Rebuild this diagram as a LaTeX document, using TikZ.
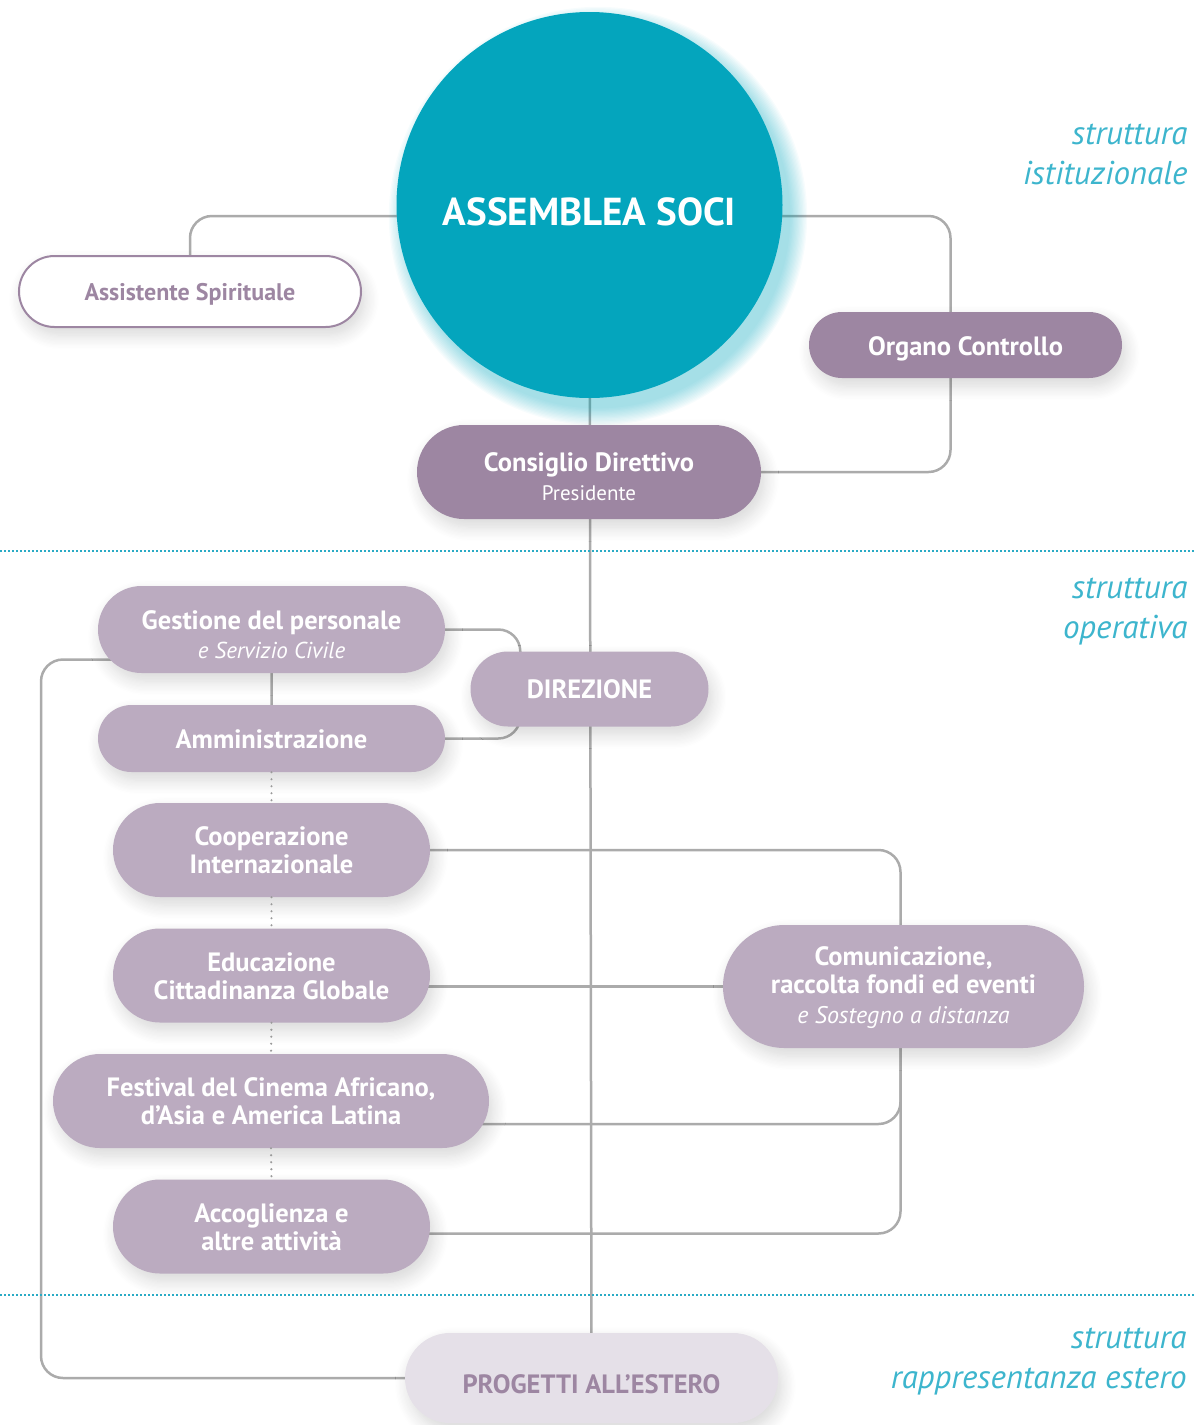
\documentclass[tikz,border=0pt]{standalone}
\usepackage{fontspec}
\setmainfont{PT Sans}
\usetikzlibrary{shapes.misc,shadows.blur,backgrounds,calc}
\definecolor{tealc}{HTML}{04A5BD}
\definecolor{pdark}{HTML}{9D86A2}
\definecolor{plight}{HTML}{BBABC0}
\definecolor{pvlight}{HTML}{E5E0E8}
\definecolor{lgray}{HTML}{ABABAB}
\definecolor{cyanlab}{HTML}{3DB5CD}
\definecolor{cyandot}{HTML}{2AABC5}
\newcommand{\lbl}[2][0pt]{\raisebox{-#1}[\height][\depth]{\begin{tabular}{@{}c@{}}#2\end{tabular}}}
\begin{document}
\begin{tikzpicture}[x=1pt,y=-1pt,
  pill/.style={rounded rectangle, inner sep=0pt, align=center, text=white,
    font=\bfseries\fontsize{26.5}{28}\selectfont,
    blur shadow={shadow xshift=4pt, shadow yshift=-8pt, shadow blur radius=14pt, shadow opacity=16, shadow blur steps=12}},
  darkpill/.style={pill, fill=pdark},
  lightpill/.style={pill, fill=plight},
  conn/.style={draw=lgray, line width=2.5pt, rounded corners=22pt},
  dotconn/.style={draw=lgray!90!black, line width=2.4pt, line cap=round, dash pattern=on 0pt off 7pt},
  sepline/.style={draw=cyandot, line width=2pt, dash pattern=on 2pt off 2pt},
  sectlabel/.style={anchor=east, align=right, text=cyanlab, font=\itshape\fontsize{33}{40}\selectfont}
]
\useasboundingbox (0,0) rectangle (1195,1425);

% glow of the circle (lower right)
\foreach \i in {1,...,14}{
  \fill[tealc, opacity=0.03] (598,216) circle ({191+1.3*\i});
}
% nodes
\node[circle, fill=tealc, minimum size=386pt, inner sep=0pt, text=white,
      font=\bfseries\fontsize{39}{40}\selectfont] (asm) at (589.5,205) {\lbl[12pt]{ASSEMBLEA SOCI}};

\node[pill, fill=white, draw=pdark, line width=2pt, text=pdark, font=\bfseries\fontsize{24}{26}\selectfont,
      minimum width=342pt, minimum height=71pt] (asst) at (190,291.5) {\lbl[4pt]{Assistente Spirituale}};

\node[darkpill, minimum width=313pt, minimum height=66pt] (org) at (965.5,345) {\lbl[5pt]{Organo Controllo}};

\node[darkpill, minimum width=344pt, minimum height=94pt] (cd) at (589,472)
  {\lbl[8pt]{Consiglio Direttivo\\[1pt]{\normalfont\fontsize{21}{22}\selectfont Presidente}}};

\node[lightpill, minimum width=347pt, minimum height=87pt] (gest) at (271.5,629.5)
  {\lbl[9pt]{Gestione del personale\\[1pt]{\itshape\mdseries\fontsize{23}{23}\selectfont e Servizio Civile}}};

\node[lightpill, minimum width=347pt, minimum height=67pt] (amm) at (271.5,738.5) {\lbl[4pt]{Amministrazione}};

\node[lightpill, minimum width=238pt, minimum height=75pt] (dir) at (589.5,689) {DIREZIONE};

\node[lightpill, minimum width=317pt, minimum height=94pt] (coop) at (271.5,850)
  {Cooperazione\\Internazionale};

\node[lightpill, minimum width=317pt, minimum height=94pt] (edu) at (271.5,975.5)
  {\lbl[4pt]{Educazione\\Cittadinanza Globale}};

\node[lightpill, minimum width=436pt, minimum height=94pt] (fest) at (271,1101)
  {Festival del Cinema Africano,\\d’Asia e America Latina};

\node[lightpill, minimum width=317pt, minimum height=94pt] (acc) at (271.5,1226.5)
  {\lbl[4pt]{Accoglienza e\\altre attività}};

\node[lightpill, minimum width=361pt, minimum height=123pt] (com) at (903.5,986.5)
  {\lbl[2pt]{Comunicazione,\\raccolta fondi ed eventi\\[2pt]{\itshape\mdseries\fontsize{24}{24}\selectfont e Sostegno a distanza}}};

\node[pill, fill=pvlight, text=pdark, minimum width=373pt, minimum height=90pt] (prog) at (591.5,1378)
  {\lbl[10pt]{PROGETTI ALL’ESTERO}};

% section labels
\node[sectlabel] (l1) at (1191,154) {struttura\\istituzionale};
\node[sectlabel] (l2) at (1191,612) {struttura\\operativa};
\node[sectlabel] (l3) at (1190,1362) {struttura\\rappresentanza estero};

% separators
\coordinate (s1a) at (0,551); \coordinate (s1b) at (1195,551);
\coordinate (s2a) at (0,1295); \coordinate (s2b) at (1195,1295);
\draw[sepline] (s1a) -- (s1b);
\draw[sepline] (s2a) -- (s2b);

% connectors
\begin{pgfonlayer}{background}
  \draw[conn] (asm.center) -- (prog.center);
  \draw[conn] ([yshift=-11pt]asm.center) -| (asst.north);
  \draw[conn] ([yshift=-11pt]asm.center) -| ([xshift=-15pt]org.north);
  \draw[conn] ([xshift=-15pt]org.south) |- (cd.east);
  \draw[conn] (gest.center) -| ([xshift=50pt]dir.west);
  \draw[conn] (amm.center) -| ([xshift=50pt]dir.west);
  \draw[conn] (gest) -- (amm);
  \coordinate (loopx) at (41,0);
  \draw[conn] ([yshift=-30pt]gest.center) -| (loopx |- prog.west) -- (prog.center);
  \draw[conn] (coop.center) -| ([xshift=-3pt]com.center);
  \draw[conn] (edu.center |- com.center) -- (com.center);
  \draw[conn] ([xshift=-3pt]com.center) |- ([yshift=-23pt]fest.center);
  \draw[conn] ([xshift=-3pt]com.center) |- ([yshift=-7pt]acc.center);
\end{pgfonlayer}
\draw[dotconn] (amm.south) -- (coop.north);
\draw[dotconn] (coop.south) -- (edu.north);
\draw[dotconn] (edu.south) -- (fest.north);
\draw[dotconn] (fest.south) -- (acc.north);
\end{tikzpicture}
\end{document}
